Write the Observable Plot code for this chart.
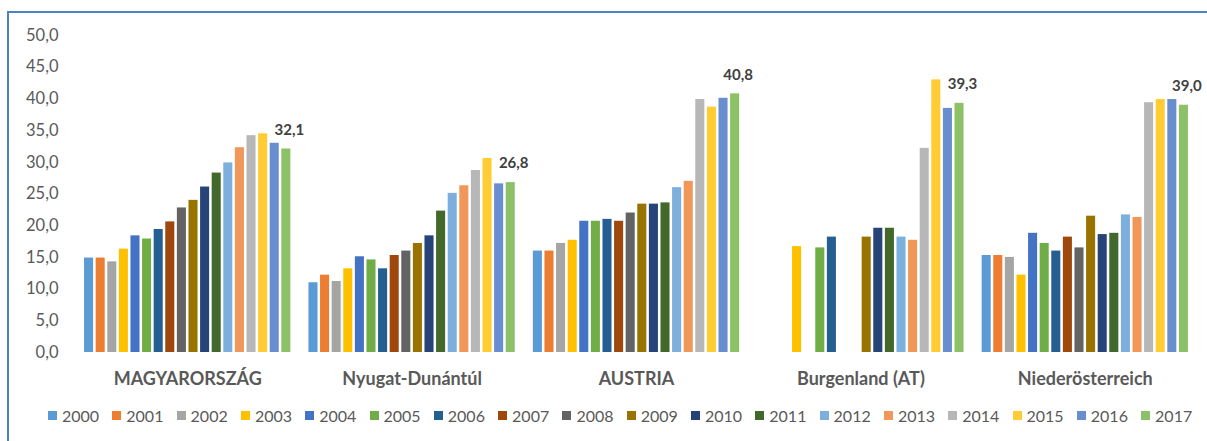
<!DOCTYPE html>
<html>
<head>
<meta charset="utf-8">
<script src="https://cdn.jsdelivr.net/npm/d3@7"></script>
<script src="https://cdn.jsdelivr.net/npm/@observablehq/plot@0.6"></script>
<style>
  html, body { margin: 0; padding: 0; background: #fff; overflow: hidden; }
  body { width: 1207px; height: 441px; position: relative; font-family: Lato, "Open Sans", sans-serif; }
  #frame { position: absolute; left: 7px; top: 11px; width: 1300px; height: 500px; border-left: 2px solid #4f81bd; border-top: 2px solid #4f81bd; }
  #chart { position: absolute; left: 0; top: 0; }
  #legend { position: absolute; left: 0; top: 405px; width: 1207px; height: 20px; }
  .item { position: absolute; top: 0; display: flex; align-items: center; height: 20px; font-size: 16px; color: #595959; white-space: nowrap; }
  .sw { width: 9px; height: 9px; margin-right: 5px; }
</style>
</head>
<body>
<div id="frame"></div>
<div id="chart"></div>
<div id="legend"></div>
<script>
const regions = ["MAGYARORSZÁG", "Nyugat-Dunántúl", "AUSTRIA", "Burgenland (AT)", "Niederösterreich"];
const years = ["2000","2001","2002","2003","2004","2005","2006","2007","2008","2009","2010","2011","2012","2013","2014","2015","2016","2017"];
const colors = ["#5B9BD5","#ED7D31","#A5A5A5","#FFC000","#4472C4","#70AD47","#255E91","#9E480E","#636363","#997300","#264478","#43682B","#7CAFDD","#F1975A","#B7B7B7","#FFCD33","#698ED0","#8CC168"];

const magyarorszag     = [14.9,14.9,14.3,16.3,18.4,17.9,19.4,20.6,22.8,24.0,26.1,28.3,29.9,32.3,34.2,34.5,33.0,32.1];
const nyugatDunantul   = [11.0,12.2,11.2,13.2,15.1,14.6,13.2,15.3,16.0,17.2,18.4,22.3,25.1,26.3,28.7,30.6,26.6,26.8];
const austria          = [16.0,16.0,17.2,17.7,20.7,20.7,21.0,20.7,22.0,23.4,23.4,23.6,26.0,27.0,39.9,38.7,40.1,40.8];
const burgenland       = [null,null,null,16.7,null,16.5,18.2,null,null,18.2,19.6,19.6,18.2,17.7,32.2,43.0,38.5,39.3];
const niederosterreich = [15.3,15.3,15.0,12.2,18.8,17.2,16.0,18.2,16.5,21.5,18.6,18.8,21.7,21.3,39.4,39.9,39.9,39.0];

const seriesByRegion = [magyarorszag, nyugatDunantul, austria, burgenland, niederosterreich];
const data = [];
regions.forEach((r, i) => years.forEach((y, j) => {
  const v = seriesByRegion[i][j];
  if (v != null) data.push({region: r, year: y, value: v});
}));
const labelData = data.filter(d => d.year === "2017");
const fmt = d => d.toFixed(1).replace(".", ",");
const ticks = d3.range(0, 51, 5);

const chart = Plot.plot({
  width: 1207,
  height: 392,
  marginLeft: 75,
  marginRight: 10,
  marginTop: 35,
  marginBottom: 40,
  style: {fontFamily: "Lato, 'Open Sans', sans-serif", background: "transparent"},
  fx: {domain: regions, padding: 0, round: false, label: null},
  x: {domain: years, paddingInner: 0.22, paddingOuter: 0.78, round: false, axis: null},
  y: {domain: [0, 50], label: null},
  color: {domain: years, range: colors},
  marks: [
    Plot.ruleY(ticks, {fx: () => null, stroke: "#d9d9d9", strokeWidth: 1.3}),
    Plot.barY(data, {fx: "region", x: "year", y: "value", fill: "year"}),
    Plot.text(labelData, {fx: "region", x: "year", y: "value", text: d => fmt(d.value), dy: -19, dx: 3, fontWeight: "bold", fontSize: 15, fill: "#404040"}),
    Plot.axisY({ticks, tickSize: 0, tickPadding: 17, tickFormat: fmt, fontSize: 16.5, fill: "#595959", label: null}),
    Plot.axisFx({anchor: "bottom", tickSize: 0, tickPadding: 20, fontSize: 18, fontWeight: "bold", fill: "#595959", label: null})
  ]
});
document.getElementById("chart").appendChild(chart);

const legend = document.getElementById("legend");
years.forEach((y, i) => {
  const item = document.createElement("div");
  item.className = "item";
  item.style.left = (48 + i * 64.3) + "px";
  const sw = document.createElement("span");
  sw.className = "sw";
  sw.style.background = colors[i];
  const t = document.createElement("span");
  t.textContent = y;
  item.appendChild(sw);
  item.appendChild(t);
  legend.appendChild(item);
});
</script>
</body>
</html>
